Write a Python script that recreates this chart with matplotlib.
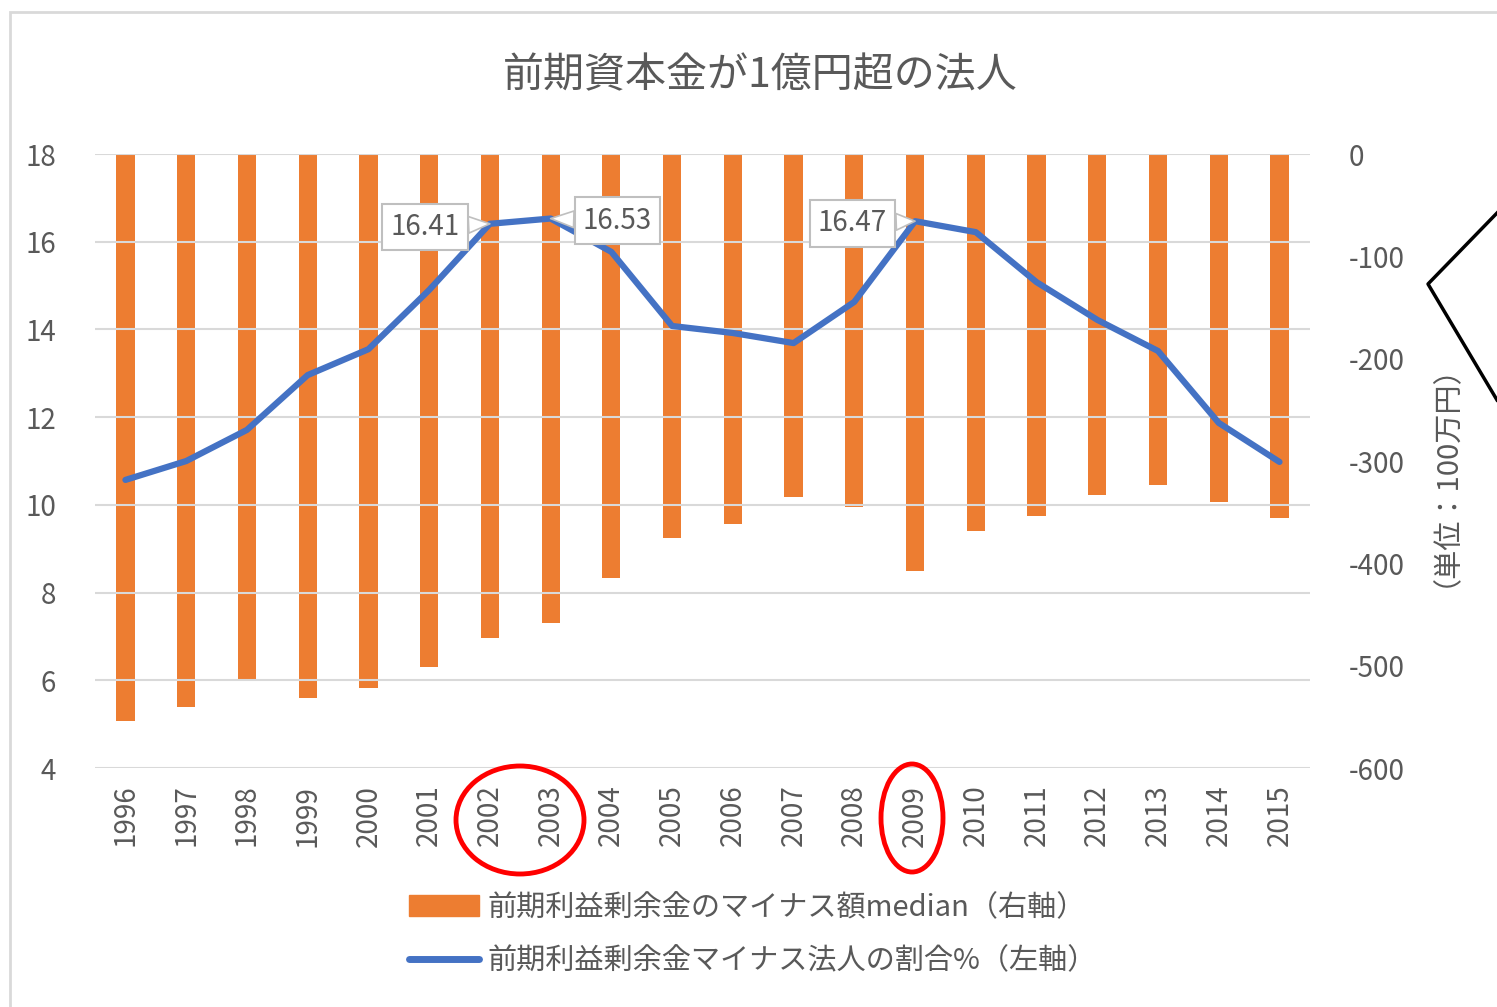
import matplotlib.pyplot as plt
import matplotlib.patches as mpatches
from matplotlib.lines import Line2D
import numpy as np

plt.rcParams['font.family'] = ['Noto Sans CJK JP', 'DejaVu Sans']
plt.rcParams['axes.unicode_minus'] = False

years = [str(y) for y in range(1996, 2016)]
# 前期利益剰余金のマイナス額median (右軸, 100万円)
deficit_median = [-554, -540, -515, -532, -522, -501, -473, -458, -414, -375,
                  -362, -335, -345, -407, -368, -354, -333, -323, -340, -356]
# 前期利益剰余金マイナス法人の割合% (左軸)
deficit_ratio = [10.57, 11.0, 11.71, 12.96, 13.55, 14.9, 16.41, 16.53, 15.77, 14.08,
                 13.92, 13.69, 14.63, 16.47, 16.22, 15.08, 14.22, 13.51, 11.87, 10.98]
labelled = {'2002': (-1.07, -0.07), '2003': (1.1, -0.05), '2009': (-1.03, -0.05)}

orange = '#ED7D31'
blue = '#4472C4'
grey = '#595959'

fig = plt.figure(figsize=(14.97, 10.07), dpi=100)
ax = fig.add_axes([0.0635, 0.2373, 0.8115, 0.6097])
ax2 = ax.twinx()

x = np.arange(len(years))

# bars on the right axis, drawn behind the line
ax2.bar(x, deficit_median, width=0.3, color=orange, zorder=2)
ax2.set_ylim(-600, 0)
ax2.set_yticks(range(-600, 1, 100))

ax.set_ylim(4, 18)
ax.set_yticks(range(4, 19, 2))
ax.set_xlim(-0.5, len(years) - 0.5)
ax.set_xticks(x)
ax.set_xticklabels(years, rotation=90)
ax.grid(axis='y', color='#D9D9D9', lw=1.5, zorder=0)
ax.set_axisbelow(True)

# line must be above bars -> put left axis on top
ax.set_zorder(ax2.get_zorder() + 1)
ax.patch.set_visible(False)
ax.plot(x, deficit_ratio, color=blue, lw=4.5, solid_capstyle='round', zorder=5)

for a in (ax, ax2):
    for s in a.spines.values():
        s.set_visible(False)
    a.tick_params(length=0, colors=grey, labelsize=20)
ax.tick_params(axis='y', pad=28)
ax.tick_params(axis='x', pad=12)
ax2.tick_params(axis='y', pad=28)

ax2.set_ylabel('（単位：100万円）', color=grey, fontsize=21, labelpad=8)

# data labels
for yr, (dx, dy) in labelled.items():
    i = years.index(yr)
    v = deficit_ratio[i]
    ax.annotate(f'{v:.2f}', xy=(i, v), xytext=(i + dx, v + dy),
                ha='center', va='center', fontsize=20, color=grey, zorder=7,
                bbox=dict(boxstyle='square,pad=0.3', fc='white', ec='#BFBFBF', lw=1.5),
                arrowprops=dict(arrowstyle='wedge,tail_width=0.6', fc='white',
                                ec='#BFBFBF', lw=1.2, shrinkA=0, shrinkB=0))

fig.suptitle('前期資本金が1億円超の法人', x=0.508, y=0.945, fontsize=29.5, color=grey)

handles = [mpatches.Patch(color=orange, label='前期利益剰余金のマイナス額median（右軸）'),
           Line2D([], [], color=blue, lw=5, solid_capstyle='round',
                  label='前期利益剰余金マイナス法人の割合%（左軸）')]
fig.legend(handles=handles, loc='center', bbox_to_anchor=(0.503, 0.072), ncol=1,
           frameon=False, fontsize=21, labelcolor=grey, handlelength=2.4,
           handletextpad=0.3, labelspacing=0.8)

# outer chart border
fig.patches.append(mpatches.Rectangle((10 / 1497, -0.01), 1.1, 1 - 12 / 1007 + 0.01,
                                      transform=fig.transFigure, fill=False,
                                      ec='#D9D9D9', lw=2))

# red circles drawn on the screenshot
for cx, cy, w, h in [(520, 820, 128, 108), (912, 818, 62, 108)]:
    fig.patches.append(mpatches.Ellipse((cx / 1497, 1 - cy / 1007), w / 1497, h / 1007,
                                        transform=fig.transFigure, fill=False,
                                        ec='#FF0000', lw=3.5))

# stray black callout line at the right edge
fig.lines.append(Line2D([1497 / 1497, 1428 / 1497, 1497 / 1497],
                        [1 - 213 / 1007, 1 - 284 / 1007, 1 - 400 / 1007],
                        transform=fig.transFigure, color='black', lw=2.5))

fig.savefig('out.png', dpi=100)
